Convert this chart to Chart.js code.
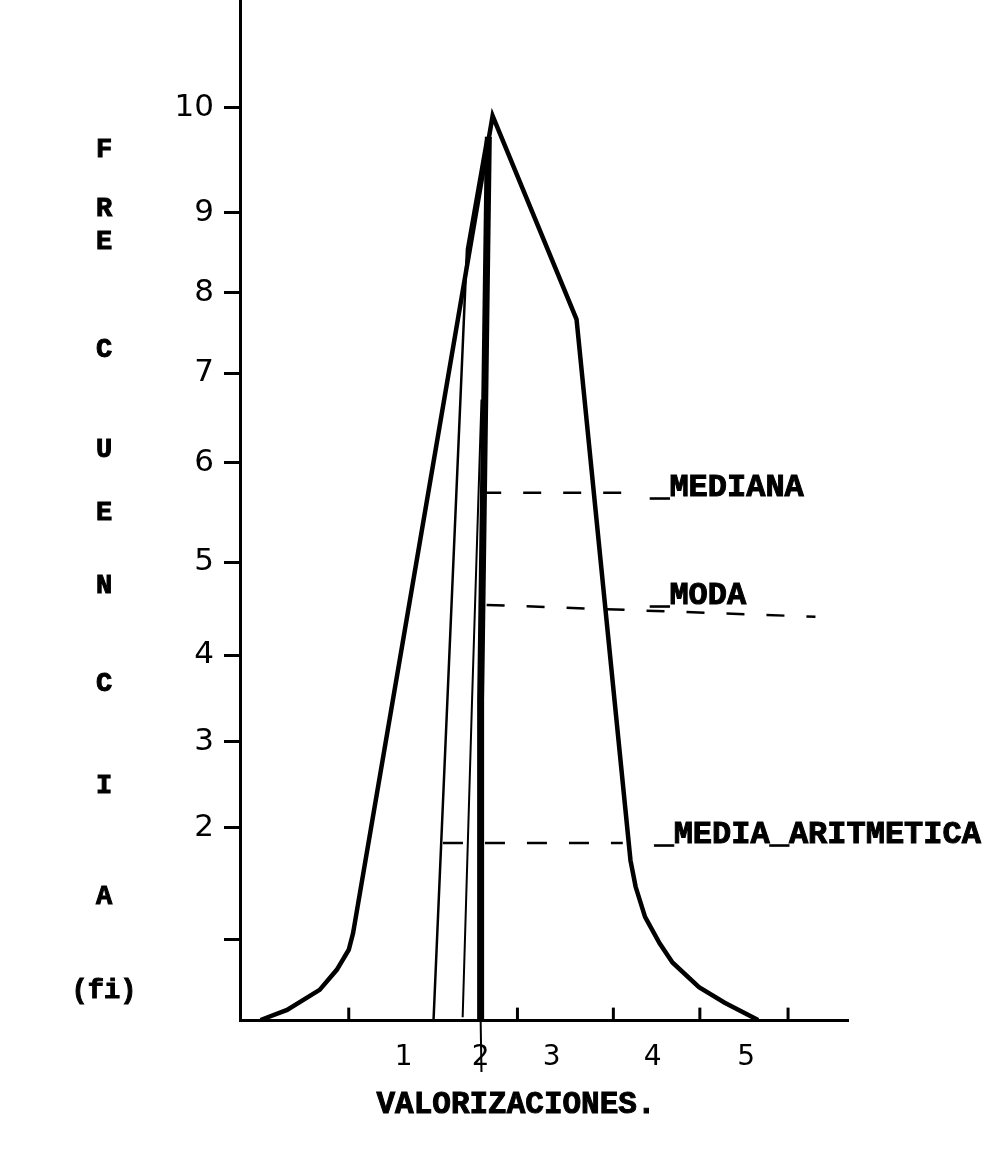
<!DOCTYPE html>
<html>
<head>
<meta charset="utf-8">
<script src="https://cdn.jsdelivr.net/npm/chart.js@4.4.1/dist/chart.umd.min.js"></script>
<style>
  html, body { margin: 0; padding: 0; background: #fff; }
  #wrap { width: 989px; height: 1154px; }
</style>
</head>
<body>
<div id="wrap"><canvas id="grafico" width="989" height="1154"></canvas></div>
<script>
// ---- Datos ----
// Poligono de frecuencias (valorizacion, fi)
const curvaX = [-0.67, -0.36, 0.02, 0.22, 0.36, 0.41, 2.04, 3.02, 3.65, 3.71, 3.82, 3.99, 4.14, 4.45, 4.75, 5.14];
const curvaY = [0.00, 0.11, 0.33, 0.55, 0.77, 0.95, 9.91, 7.68, 1.75, 1.46, 1.13, 0.84, 0.63, 0.36, 0.19, 0.00];

// Verticales de las medidas de tendencia central
const mediaVX = [1.35, 1.74, 1.97];
const mediaVY = [0.00, 8.45, 9.68];
const modaVX = [1.69, 1.80, 1.91];
const modaVY = [0.03, 3.51, 6.80];
const medianaVX = [1.90, 1.90, 1.99];
const medianaVY = [0.00, 3.51, 9.68];
const prolongX = [1.90, 1.91];
const prolongY = [0.00, -0.57];

// Horizontales punteadas
const medianaHX = [1.93, 3.56];
const medianaHY = [5.78, 5.78];
const modaHX = [1.97, 5.81];
const modaHY = [4.55, 4.42];
const mediaHX = [1.46, 3.56];
const mediaHY = [1.94, 1.94];

// Etiquetas de las medidas
const etiquetas = ['_MEDIANA', '_MODA', '_MEDIA_ARITMETICA'];
const etiquetaX = [3.88, 3.88, 3.93];
const etiquetaY = [5.83, 4.65, 2.03];

// Ejes (marcas trazadas a mano, irregulares)
const yTickPos = [0.88, 2.11, 3.05, 4.00, 5.02, 6.11, 7.09, 7.97, 8.85, 10.00];
const yTickLabels = ['', '2', '3', '4', '5', '6', '7', '8', '9', '10'];
const xTickPos = [1.00, 1.90, 2.73, 3.91, 5.00];
const xTickLabels = ['1', '2', '3', '4', '5'];
const xMarcas = [0.36, 2.33, 3.45, 4.46, 5.49];

const tituloY = ['F', 'R', 'E', 'C', 'U', 'E', 'N', 'C', 'I', 'A', '(fi)'];
const tituloX = 'VALORIZACIONES.';

const pts = (xs, ys) => xs.map((x, i) => ({ x, y: ys[i] }));

const linea = (xs, ys, width, dash) => ({
    data: pts(xs, ys),
    showLine: true,
    borderColor: '#000',
    borderWidth: width,
    borderDash: dash || [],
    pointRadius: 0,
    tension: 0,
    fill: false,
    clip: false
});

// texto "a maquina": relleno + trazo fino para engrosar
function escribir(ctx, t, px, py) {
    ctx.fillText(t, px, py);
    ctx.strokeText(t, px, py);
}

// ---- Textos adicionales ----
const textos = {
    id: 'textos',
    afterDraw(chart) {
        const { ctx, scales: { x, y } } = chart;
        ctx.save();
        ctx.fillStyle = '#000';
        ctx.strokeStyle = '#000';
        ctx.lineWidth = 1;
        ctx.textBaseline = 'middle';

        // Titulo vertical letra por letra
        const letraY = [150, 209, 242, 350, 450, 513, 586, 684, 786, 897, 991];
        ctx.font = 'bold 27px "Liberation Mono"';
        ctx.textAlign = 'center';
        tituloY.forEach((t, i) => escribir(ctx, t, 104, letraY[i]));

        // Titulo del eje X
        ctx.font = 'bold 31px "Liberation Mono"';
        escribir(ctx, tituloX, 516, 1105);

        // Etiquetas de mediana, moda y media
        ctx.font = 'bold 32px "Liberation Mono"';
        ctx.textAlign = 'left';
        etiquetas.forEach((t, i) => {
            escribir(ctx, t, x.getPixelForValue(etiquetaX[i]),
                             y.getPixelForValue(etiquetaY[i]));
        });
        ctx.restore();
    }
};

new Chart(document.getElementById('grafico'), {
    type: 'scatter',
    data: {
        datasets: [
            linea(curvaX, curvaY, 4.5),
            linea(mediaVX, mediaVY, 2.5),
            linea(modaVX, modaVY, 2),
            linea(medianaVX, medianaVY, 7),
            linea(prolongX, prolongY, 2),
            linea(medianaHX, medianaHY, 2.5, [18, 22]),
            linea(modaHX, modaHY, 2.5, [18, 22]),
            linea(mediaHX, mediaHY, 2.5, [20, 22]),
            {
                data: xMarcas.map(v => ({ x: v, y: 0.07 })),
                showLine: false,
                pointStyle: 'line',
                rotation: 90,
                pointRadius: 6,
                borderColor: '#000',
                borderWidth: 3
            }
        ]
    },
    options: {
        responsive: false,
        animation: false,
        devicePixelRatio: 1,
        layout: {
            autoPadding: false,
            padding: { top: 0, left: 0, right: 141, bottom: 0 }
        },
        plugins: {
            legend: { display: false },
            tooltip: { enabled: false },
            title: { display: false }
        },
        scales: {
            x: {
                type: 'linear',
                min: -0.91,
                max: 6.19,
                grid: { display: false, drawTicks: false },
                border: { display: true, color: '#000', width: 3 },
                afterBuildTicks: s => { s.ticks = xTickPos.map(v => ({ value: v })); },
                afterFit: s => { s.height = 134; s.paddingLeft = 0; s.paddingRight = 0; },
                ticks: {
                    autoSkip: false,
                    maxRotation: 0,
                    padding: 21,
                    color: '#000',
                    font: { family: 'DejaVu Sans', size: 28 },
                    callback: (v, i) => xTickLabels[i]
                }
            },
            y: {
                type: 'linear',
                min: 0,
                max: 11.18,
                grid: {
                    drawOnChartArea: false,
                    drawTicks: true,
                    tickLength: 16,
                    lineWidth: 3,
                    color: '#000'
                },
                border: { display: true, color: '#000', width: 3 },
                afterBuildTicks: s => { s.ticks = yTickPos.map(v => ({ value: v })); },
                afterFit: s => { s.width = 240; s.paddingTop = 0; s.paddingBottom = 0; },
                ticks: {
                    autoSkip: false,
                    padding: 10,
                    color: '#000',
                    font: { family: 'DejaVu Sans', size: 31 },
                    callback: (v, i) => yTickLabels[i]
                }
            }
        }
    },
    plugins: [textos]
});
</script>
</body>
</html>
